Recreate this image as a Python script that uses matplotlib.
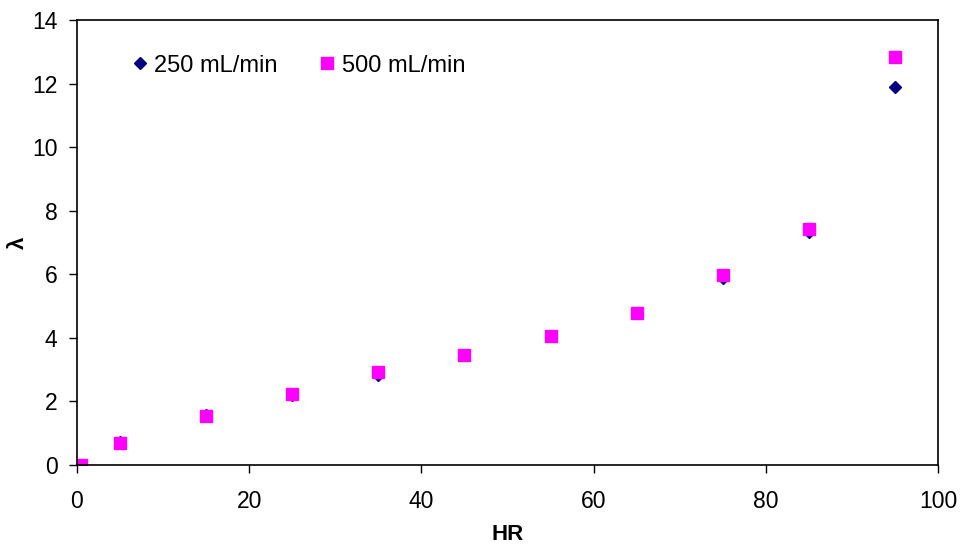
import matplotlib.pyplot as plt

plt.rcParams['font.family'] = ['Liberation Sans', 'DejaVu Sans']

# Data
hr = [0.5, 5, 15, 25, 35, 45, 55, 65, 75, 85, 95]
lam_250 = [0.0, 0.72, 1.56, 2.2, 2.82, 3.45, 4.05, 4.77, 5.87, 7.33, 11.88]
lam_500 = [0.0, 0.68, 1.53, 2.22, 2.93, 3.47, 4.06, 4.78, 5.98, 7.42, 12.82]

fig = plt.figure(figsize=(9.6, 5.46), dpi=100)
ax = fig.add_axes([0.0802, 0.1484, 0.8968, 0.815])

ax.plot(hr, lam_250, linestyle='none', marker='D', markersize=6.5,
        color='#000080', label='250 mL/min')
ax.plot(hr, lam_500, linestyle='none', marker='s', markersize=8,
        color='#FF00FF', label='500 mL/min')

ax.set_xlim(0, 100)
ax.set_ylim(0, 14)
ax.set_xticks(range(0, 101, 20))
ax.set_yticks(range(0, 15, 2))
ax.tick_params(direction='out', length=6, labelsize=16.5, width=1)
ax.tick_params(axis='x', pad=12)
ax.tick_params(axis='y', pad=8)
for s in ax.spines.values():
    s.set_linewidth(1.2)
    s.set_color('black')

ax.set_xlabel('HR', fontsize=16, fontweight='bold', labelpad=8)
ax.set_ylabel('λ', fontsize=16, fontweight='bold')
ax.yaxis.set_label_coords(-0.056, 0.5)

ax.legend(loc='upper left', bbox_to_anchor=(0.035, 0.97), ncol=2, frameon=False,
          fontsize=17, handletextpad=0.1, columnspacing=1.6, handlelength=1.0)

fig.savefig('out.png', dpi=100)
